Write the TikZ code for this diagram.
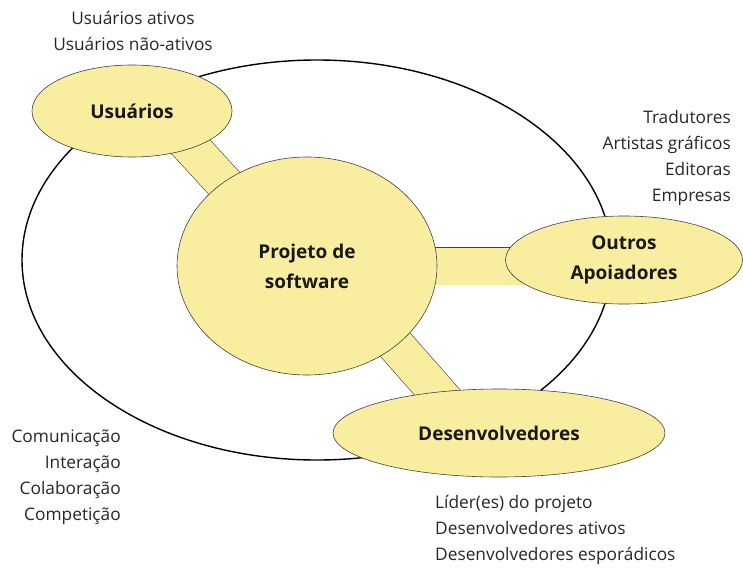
\documentclass[tikz,border=0pt]{standalone}
\usepackage{fontspec}
\setmainfont{Open Sans}
\usetikzlibrary{shapes.geometric,backgrounds,calc}
\definecolor{amarelo}{RGB}{249,238,160}

\begin{document}
\begin{tikzpicture}[x=1pt, y=-1pt, main/.style = {draw=black!75, line width=0.6pt, ellipse, fill=amarelo, inner sep=0pt, align=center, font=\bfseries\fontsize{19}{30}\selectfont, text=black!90}, lista/.style = {inner sep=0pt, font=\fontsize{17.3}{26}\selectfont, text=black!85}, ponte/.style = {draw=black!75, line width=0.6pt, double=amarelo, double distance=37pt}]
	\useasboundingbox (0,0) rectangle (743,567);
	\node[main, minimum width=260, minimum height=218] (1) at (307,266) {Projeto de\\software};
	\node[main, minimum width=200, minimum height=92] (2) at (132,111) {Usuários};
	\node[main, minimum width=237, minimum height=88] (3) at (624,260) {Outros\\Apoiadores};
	\node[main, minimum width=332, minimum height=88] (4) at (499,433) {Desenvolvedores};
	\node[lista, align=center] (5) at (133,31) {Usuários ativos\\Usuários não-ativos};
	\node[lista, align=right, anchor=east] (6) at (731,158) {Tradutores\\Artistas gráficos\\Editoras\\Empresas};
	\node[lista, align=right, anchor=east] (7) at (121,477) {Comunicação\\Interação\\Colaboração\\Competição};
	\node[lista, align=left, anchor=west] (8) at (435,530) {Líder(es) do projeto\\Desenvolvedores ativos\\Desenvolvedores esporádicos};
	\begin{pgfonlayer}{background}
		\draw[line width=1.4pt] (317,260) ellipse [x radius=295, y radius=200];
		\draw[ponte] ($(2.center)+(26,0)$) -- ($(1.center)+(-7,0)$);
		\draw[ponte] (1.center) -- ($(3.center)+(0,6)$);
		\draw[ponte] ($(1.center)+(19,0)$) -- ($(4.center)+(-26,0)$);
	\end{pgfonlayer}
\end{tikzpicture}
\end{document}
